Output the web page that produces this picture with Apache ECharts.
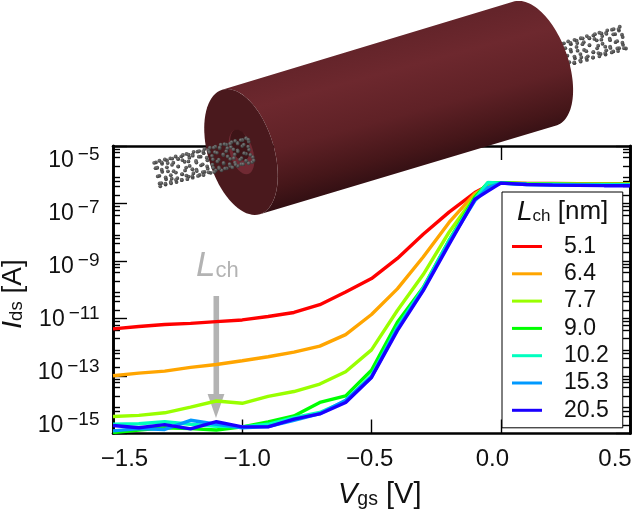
<!DOCTYPE html>
<html><head><meta charset="utf-8">
<script src="https://cdn.jsdelivr.net/npm/echarts@6/dist/echarts.min.js"></script>
<style>html,body{margin:0;padding:0;background:#fff}#c{width:632px;height:512px}</style>
</head><body><div id="c"></div>
<script>
// Gate voltage samples [V]
const vgs = [-1.5,-1.4,-1.3,-1.2,-1.1,-1.0,-0.9,-0.8,-0.7,-0.6,-0.5,-0.4,-0.3,-0.2,-0.1,-0.05,0,0.1,0.2,0.3,0.4,0.5];
// log10(Ids [A]), one list per channel length
const lch_5_1  = [-11.36,-11.28,-11.21,-11.17,-11.11,-11.05,-10.93,-10.79,-10.52,-10.08,-9.61,-8.91,-8.07,-7.30,-6.62,-6.38,-6.30,-6.30,-6.30,-6.31,-6.31,-6.31];
const lch_6_4  = [-12.99,-12.90,-12.83,-12.70,-12.60,-12.47,-12.33,-12.17,-11.96,-11.56,-10.86,-9.97,-8.86,-7.66,-6.66,-6.40,-6.28,-6.30,-6.31,-6.32,-6.32,-6.32];
const lch_7_7  = [-14.41,-14.37,-14.28,-14.08,-13.87,-13.95,-13.71,-13.54,-13.28,-12.85,-12.09,-10.72,-9.47,-8.00,-6.75,-6.30,-6.28,-6.31,-6.32,-6.33,-6.33,-6.33];
const lch_9_0  = [-14.97,-14.88,-14.80,-14.83,-14.88,-14.77,-14.60,-14.39,-13.92,-13.69,-12.80,-11.13,-9.92,-8.28,-6.78,-6.28,-6.28,-6.32,-6.33,-6.34,-6.34,-6.34];
const lch_10_2 = [-14.68,-14.66,-14.59,-14.68,-14.75,-14.77,-14.68,-14.45,-14.27,-13.87,-12.99,-11.31,-9.95,-8.30,-6.85,-6.27,-6.29,-6.33,-6.34,-6.35,-6.35,-6.35];
const lch_15_3 = [-14.91,-14.83,-14.86,-14.54,-14.68,-14.80,-14.76,-14.54,-14.31,-13.84,-13.03,-11.36,-10.00,-8.35,-6.90,-6.45,-6.29,-6.34,-6.35,-6.36,-6.37,-6.37];
const lch_20_5 = [-14.72,-14.80,-14.69,-14.84,-14.59,-14.77,-14.77,-14.50,-14.32,-13.92,-13.05,-11.42,-10.03,-8.42,-6.85,-6.57,-6.29,-6.34,-6.36,-6.37,-6.38,-6.38];
const seriesNames = ['5.1','6.4','7.7','9.0','10.2','15.3','20.5'];
const seriesValues = [lch_5_1,lch_6_4,lch_7_7,lch_9_0,lch_10_2,lch_15_3,lch_20_5];
const seriesColors = ['#ff0000','#ffa500','#99ff00','#00ff00','#00ffbf','#0099ff','#1a00ff'];
const yTickExponents = [-15,-13,-11,-9,-7,-5];
const minorMantissas = [2,4,6,8];

const FONT = '"Liberation Sans", Arial, sans-serif';
const majorY = yTickExponents.map(e => Number('1e' + e));
const minorY = [];
for (let e = -15; e < -5; e++) minorMantissas.forEach(m => minorY.push(Number(m + 'e' + e)));

const frame = {lineStyle:{color:'#000',width:2.6}};
function logAxis(pos, ticks, len){
  return {type:'log', logBase:10, gridIndex:0, position:pos, min:1e-15, max:1e-5,
    axisLine:Object.assign({show:true,onZero:false},frame),
    axisTick:{show:true,inside:true,length:len,customValues:ticks,lineStyle:{color:'#000',width:1.4}},
    axisLabel:{show:false}, splitLine:{show:false}, minorTick:{show:false}};
}
function linAxis(pos){
  return {type:'value', gridIndex:0, position:pos, min:-1.5, max:0.5, interval:0.5,
    axisLine:Object.assign({show:true,onZero:false},frame),
    axisTick:{show:true,inside:true,length:14,lineStyle:{color:'#000',width:1.4}},
    axisLabel:{show:false}, splitLine:{show:false}};
}

// ---- illustration (decoration, not data) ----
function arc(c,a,b,u,t0,t1,n){
  const pts=[]; const v=[-u[1],u[0]];
  for(let i=0;i<=n;i++){const t=t0+(t1-t0)*i/n;
    pts.push([c[0]+a*Math.cos(t)*u[0]+b*Math.sin(t)*v[0], c[1]+a*Math.cos(t)*u[1]+b*Math.sin(t)*v[1]]);}
  return pts;
}
const fU=[0.29,0.957], bU=[0.337,0.941];
const fC=[241,152], bC=[535,63.5];
const PI=Math.PI;
const backArc = arc(bC,65.5,33,bU,-PI,0,60);
const frontArc = arc(fC,65,33,fU,0,-PI,60);
const bodyFill = {type:'linear',global:true,x:400,y:37,x2:436,y2:170,colorStops:[
  {offset:0,color:'#64242a'},{offset:0.22,color:'#6d282e'},{offset:0.55,color:'#5f2126'},{offset:0.82,color:'#451619'},{offset:1,color:'#2f0e12'}]};
function poly(points,fill,z){return {type:'polygon',silent:true,z:z,shape:{points:points},style:{fill:fill}};}
function tube(a,b,R,n,m,z){
  const els=[]; const dx=b[0]-a[0],dy=b[1]-a[1],L=Math.hypot(dx,dy),d=[dx/L,dy/L],p=[-d[1],d[0]];
  const atoms=[];
  for(let i=0;i<n;i++){for(let k=0;k<m;k++){
    const th=(k+(i%2)*0.5)*2*PI/m+i*0.09;
    const s=i*L/(n-1)+ (k%2?1.0:-1.0)*0.9;
    atoms.push({x:a[0]+d[0]*s+p[0]*R*Math.cos(th),y:a[1]+d[1]*s+p[1]*R*Math.cos(th),depth:Math.sin(th)});
  }}
  atoms.sort((q,r)=>q.depth-r.depth);
  atoms.forEach(q=>els.push({type:'circle',silent:true,z:z,shape:{cx:q.x,cy:q.y,r:1.9},
    style:{fill:{type:'radial',x:0.4,y:0.35,r:0.7,colorStops:[{offset:0,color:'#7c7c7c'},{offset:1,color:'#333333'}]}}}));
  return els;
}
const illustration = [].concat(
  tube([566,54],[622,38],11.5,10,9,9),
  [poly(frontArc.concat(backArc),bodyFill,10)],
  [poly(arc(fC,65,33,fU,0,2*PI,80),'#4a191d',10)],
  [poly(arc([241.5,152],23,11.5,fU,0,2*PI,40),'#702a33',10)],
  [poly(arc([240,145],16,9,fU,0,2*PI,40),'#3e1417',10)],
  tube([158,174],[250,150],12.5,18,9,11)
);
const arrow = [
  {type:'rect',silent:true,z:1,shape:{x:213.5,y:296,width:5.6,height:100},style:{fill:'#b3b3b3'}},
  {type:'polygon',silent:true,z:1,shape:{points:[[207.6,394],[224.4,394],[216,418]]},style:{fill:'#b3b3b3'}}
];
function subText(x,y,txt,color,big,sub,tail,z){
  return {type:'text',silent:true,z:z,x:x,y:y,style:{text:txt,fill:color,rich:{
    i:{fontFamily:FONT,fontStyle:'italic',fontSize:big,fill:color},
    s:{fontFamily:FONT,fontSize:sub,padding:[9,0,0,0],fill:color},
    t:{fontFamily:FONT,fontSize:tail,fill:color}}}};
}

const chart = echarts.init(document.getElementById('c'),null,{renderer:'canvas'});
chart.setOption({
  animation:false, backgroundColor:'#fff',
  grid:[
    {left:113,top:146,width:517,height:287.5,containLabel:false,outerBoundsMode:'none'},
    {left:124.5,top:160.5,width:490.5,height:265,containLabel:false,outerBoundsMode:'none'}
  ],
  xAxis:[
    linAxis('bottom'), linAxis('top'),
    {type:'value',gridIndex:1,position:'bottom',min:-1.5,max:0.5,interval:0.5,
     axisLine:{show:false,onZero:false},axisTick:{show:false},splitLine:{show:false},
     axisLabel:{show:true,margin:21.5,fontFamily:FONT,fontSize:24,color:'#111',
       formatter:v=>v.toFixed(1).replace('-','\u2212')},
     name:'{i|V}{s|gs}{t| [V]}',nameLocation:'middle',nameGap:55,
     nameTextStyle:{padding:[0,0,0,20],rich:{
       i:{fontFamily:FONT,fontStyle:'italic',fontSize:29,color:'#111'},
       s:{fontFamily:FONT,fontSize:19.5,padding:[9,0,0,0],color:'#111'},
       t:{fontFamily:FONT,fontSize:29,color:'#111'}}}}
  ],
  yAxis:[
    logAxis('left',majorY,14), logAxis('left',minorY,7),
    logAxis('right',majorY,14), logAxis('right',minorY,7),
    {type:'log',logBase:10,gridIndex:1,position:'left',min:1e-15,max:1e-5,
     axisLine:{show:false,onZero:false},axisTick:{show:false},splitLine:{show:false},
     axisLabel:{show:true,margin:25,customValues:majorY,
       formatter:v=>'{b|10}{e|\u2212'+Math.round(-Math.log10(v))+'}',
       rich:{b:{fontFamily:FONT,fontSize:23,color:'#111'},
             e:{fontFamily:FONT,fontSize:19,padding:[0,0,12,4],color:'#111'}}},
     name:'{i|I}{s|ds}{t| [A]}',nameLocation:'middle',nameGap:92,nameRotate:90,
     nameTextStyle:{padding:[0,2,0,0],rich:{
       i:{fontFamily:FONT,fontStyle:'italic',fontSize:28,color:'#111'},
       s:{fontFamily:FONT,fontSize:18.5,padding:[9,0,0,0],color:'#111'},
       t:{fontFamily:FONT,fontSize:28,color:'#111'}}}}
  ],
  legend:{show:true,orient:'vertical',left:502,top:192,z:5,icon:'rect',
    padding:[43,14,6,10],itemWidth:30,itemHeight:3,itemGap:4.3,
    backgroundColor:'#fff',borderColor:'#000',borderWidth:1,borderRadius:0,
    textStyle:{fontFamily:FONT,fontSize:23,color:'#111',padding:[0,0,0,17]},
    data:seriesNames},
  graphic:{elements:arrow.concat(illustration,[
    subText(196,249,'{i|L}{s|ch}','#b3b3b3',35,22,22,1),
    subText(517,198,'{i|L}{s|ch}{t| [nm]}','#111',28,17,26,6)
  ])},
  series:seriesNames.map((name,i)=>({
    name:name,type:'line',xAxisIndex:0,yAxisIndex:0,symbol:'none',z:2,
    lineStyle:{color:seriesColors[i],width:3.4},itemStyle:{color:seriesColors[i]},
    data:vgs.map((v,j)=>[v,Math.pow(10,seriesValues[i][j])])
  }))
});
</script></body></html>
